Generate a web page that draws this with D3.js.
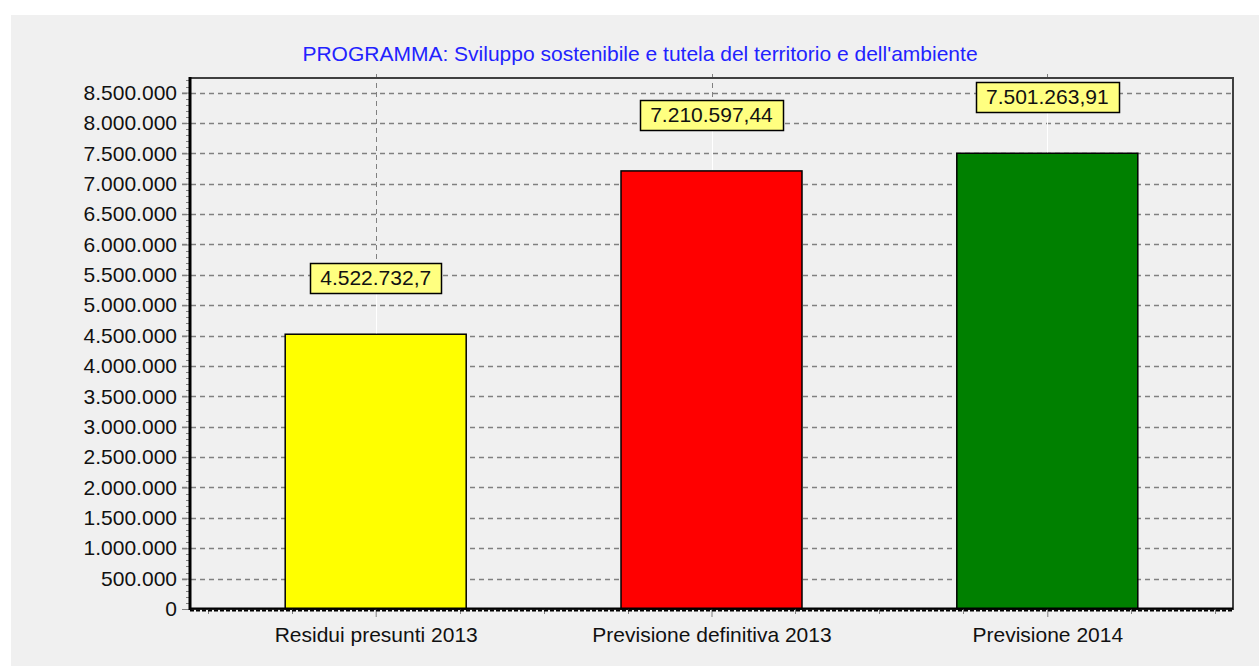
<!DOCTYPE html>
<html>
<head>
<meta charset="utf-8">
<script src="https://cdn.jsdelivr.net/npm/d3@7"></script>
<style>
  body { margin: 0; background: #fff; }
  svg text { font-family: "Liberation Sans", Arial, sans-serif; }
</style>
</head>
<body>
<script>
  //-----------------------------DATA------------------------------//
  const title = "PROGRAMMA: Sviluppo sostenibile e tutela del territorio e dell'ambiente";
  const categories = ["Residui presunti 2013", "Previsione definitiva 2013", "Previsione 2014"];
  const values = [4522732.7, 7210597.44, 7501263.91];
  const valueLabels = ["4.522.732,7", "7.210.597,44", "7.501.263,91"];
  const barColors = ["#ffff00", "#ff0000", "#008000"];
  const yTicks = d3.range(0, 8500001, 500000);

  //-----------------------------SVG------------------------------//
  const width = 1259;
  const height = 666;
  const plot = { left: 190, right: 1233, top: 78, bottom: 609 };
  const fontSize = 21;

  const svg = d3.select("body").append("svg")
    .attr("width", width)
    .attr("height", height);

  svg.append("rect")
    .attr("x", 11).attr("y", 15)
    .attr("width", width - 11).attr("height", height - 15)
    .attr("fill", "#f0f0f0");

  //----------------------------SCALES-----------------------------//
  const xScale = d3.scaleLinear().domain([-0.553, 2.553]).range([plot.left, plot.right]);
  const yScale = d3.scaleLinear().domain([0, 8740000]).range([plot.bottom, plot.top]);
  const fmt = d3.formatLocale({ decimal: ",", thousands: ".", grouping: [3], currency: ["", ""] }).format(",d");

  // title
  svg.append("text")
    .attr("x", 640).attr("y", 61)
    .attr("text-anchor", "middle")
    .attr("font-size", fontSize)
    .attr("fill", "#2222ff")
    .text(title);

  //-----------------------------GRID------------------------------//
  svg.append("g")
    .selectAll("line")
    .data(yTicks.filter(d => d > 0))
    .enter().append("line")
    .attr("x1", plot.left - 8).attr("x2", plot.right)
    .attr("y1", d => Math.round(yScale(d)) + 0.5)
    .attr("y2", d => Math.round(yScale(d)) + 0.5)
    .attr("stroke", "#808080")
    .attr("stroke-width", 1.5)
    .attr("stroke-dasharray", "5,4");

  svg.append("g")
    .selectAll("line")
    .data(categories.map((c, i) => i))
    .enter().append("line")
    .attr("x1", d => Math.round(xScale(d)) + 0.5)
    .attr("x2", d => Math.round(xScale(d)) + 0.5)
    .attr("y1", plot.top - 4).attr("y2", plot.bottom)
    .attr("stroke", "#808080")
    .attr("stroke-dasharray", "5,4");

  //-----------------------------FRAME-----------------------------//
  svg.append("rect")
    .attr("x", plot.left).attr("y", plot.top)
    .attr("width", plot.right - plot.left).attr("height", plot.bottom - plot.top)
    .attr("fill", "none")
    .attr("stroke", "#404040")
    .attr("stroke-width", 2);

  //----------------------------BARS-------------------------------//
  const barW = 181;
  svg.append("g")
    .selectAll("rect")
    .data(values)
    .enter().append("rect")
    .attr("x", (d, i) => xScale(i) - barW / 2)
    .attr("y", d => yScale(d))
    .attr("width", barW)
    .attr("height", d => yScale(0) - yScale(d))
    .attr("fill", (d, i) => barColors[i])
    .attr("stroke", "#000")
    .attr("stroke-width", 1.5);

  //-----------------------------AXES------------------------------//
  const yaxis = d3.axisLeft(yScale)
    .tickValues(yTicks)
    .tickFormat(fmt)
    .tickSize(8)
    .tickPadding(5);

  const gy = svg.append("g")
    .attr("transform", "translate(" + plot.left + ",0)")
    .call(yaxis);
  gy.select(".domain").remove();
  gy.selectAll(".tick line").attr("stroke", "#808080");
  gy.selectAll(".tick text")
    .attr("font-size", fontSize)
    .attr("fill", "#111")
    .attr("font-family", "'Liberation Sans', Arial, sans-serif");

  // minor ticks on the value axis
  svg.append("g")
    .selectAll("line")
    .data(d3.range(0, 8700001, 100000).filter(d => d % 500000 !== 0))
    .enter().append("line")
    .attr("x1", plot.left - 4).attr("x2", plot.left)
    .attr("y1", d => Math.round(yScale(d)) + 0.5)
    .attr("y2", d => Math.round(yScale(d)) + 0.5)
    .attr("stroke", "#808080");

  svg.append("line")
    .attr("x1", plot.left).attr("x2", plot.left)
    .attr("y1", plot.top - 1).attr("y2", plot.bottom + 1)
    .attr("stroke", "#000")
    .attr("stroke-width", 3);

  // category axis
  const xaxis = d3.axisBottom(xScale)
    .tickValues(categories.map((c, i) => i))
    .tickFormat((d) => categories[d])
    .tickSize(8)
    .tickPadding(10);

  const gx = svg.append("g")
    .attr("transform", "translate(0," + plot.bottom + ")")
    .call(xaxis);
  gx.select(".domain").remove();
  gx.selectAll(".tick line").attr("stroke", "#808080");
  gx.selectAll(".tick text")
    .attr("font-size", fontSize)
    .attr("fill", "#111")
    .attr("font-family", "'Liberation Sans', Arial, sans-serif");

  svg.append("g")
    .selectAll("line")
    .data(d3.range(-0.5, 2.51, 0.25).filter(d => !Number.isInteger(d)))
    .enter().append("line")
    .attr("x1", d => Math.round(xScale(d)) + 0.5)
    .attr("x2", d => Math.round(xScale(d)) + 0.5)
    .attr("y1", plot.bottom).attr("y2", plot.bottom + 5)
    .attr("stroke", "#808080");

  svg.append("line")
    .attr("x1", plot.left).attr("x2", plot.right)
    .attr("y1", plot.bottom - 0.5).attr("y2", plot.bottom - 0.5)
    .attr("stroke", "#000")
    .attr("stroke-width", 2);
  svg.append("line")
    .attr("x1", plot.left).attr("x2", plot.right)
    .attr("y1", plot.bottom + 1.5).attr("y2", plot.bottom + 1.5)
    .attr("stroke", "#000")
    .attr("stroke-width", 2)
    .attr("stroke-dasharray", "4,2");

  //----------------------------LABELS-----------------------------//
  const labels = svg.append("g")
    .selectAll("g")
    .data(values)
    .enter().append("g");

  labels.append("line")
    .attr("x1", (d, i) => Math.round(xScale(i)) + 0.5)
    .attr("x2", (d, i) => Math.round(xScale(i)) + 0.5)
    .attr("y1", d => yScale(d) - 1)
    .attr("y2", d => yScale(d) - 41)
    .attr("stroke", "#fff");

  const texts = labels.append("text")
    .attr("x", (d, i) => xScale(i))
    .attr("y", d => yScale(d) - 49)
    .attr("text-anchor", "middle")
    .attr("font-size", fontSize)
    .attr("fill", "#111")
    .text((d, i) => valueLabels[i]);

  texts.each(function (d) {
    const b = this.getBBox();
    d3.select(this.parentNode).insert("rect", "text")
      .attr("x", Math.round(b.x - 10) + 0.5)
      .attr("y", Math.round(yScale(d) - 71) + 0.5)
      .attr("width", Math.round(b.width + 20))
      .attr("height", 30)
      .attr("fill", "#ffff80")
      .attr("stroke", "#000")
      .attr("stroke-width", 1.5);
  });
</script>
</body>
</html>
